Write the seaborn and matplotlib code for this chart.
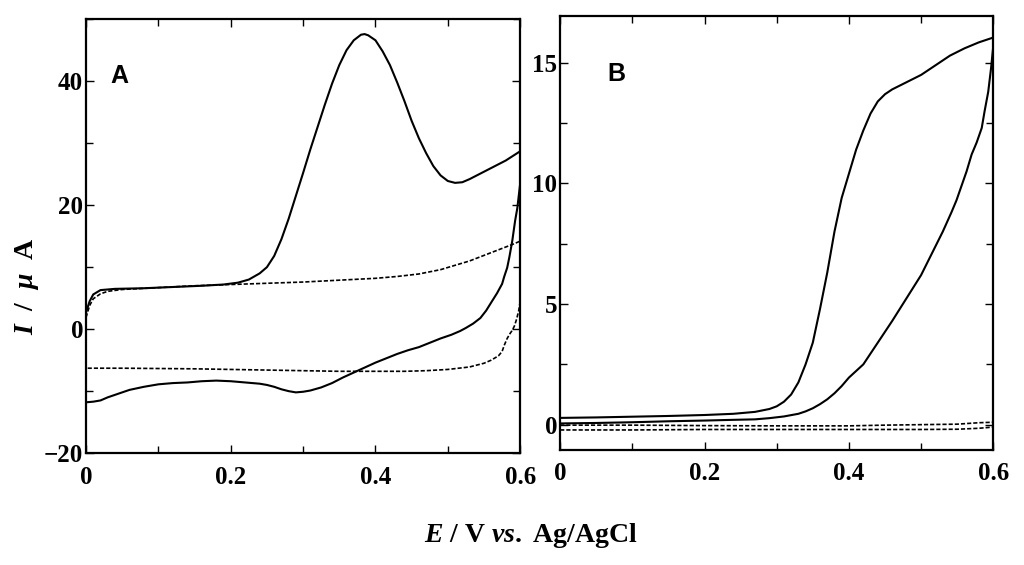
import numpy as np
import pandas as pd
import matplotlib
matplotlib.use("Agg")
import matplotlib.pyplot as plt
from matplotlib.ticker import MultipleLocator
import seaborn as sns

# ---- panel A: cyclic voltammograms (solid = sample, dashed = blank) ----
a_fwd_E = [0.0, 0.005, 0.01, 0.02, 0.04, 0.08, 0.12, 0.16, 0.19, 0.21, 0.225, 0.24,
           0.25, 0.26, 0.27, 0.28, 0.29, 0.30, 0.31, 0.32, 0.33, 0.34, 0.35, 0.36,
           0.37, 0.38, 0.385, 0.39, 0.40, 0.41, 0.42, 0.43, 0.44, 0.45, 0.46, 0.47,
           0.48, 0.49, 0.50, 0.51, 0.52, 0.53, 0.54, 0.56, 0.58, 0.60]
a_fwd_I = [2.7, 4.5, 5.6, 6.3, 6.5, 6.6, 6.8, 7.0, 7.2, 7.5, 8.0, 9.0,
           10.0, 11.8, 14.5, 17.8, 21.5, 25.2, 29.0, 32.6, 36.2, 39.6, 42.6, 45.0,
           46.6, 47.5, 47.6, 47.4, 46.6, 44.8, 42.6, 39.8, 36.8, 33.6, 30.8, 28.4,
           26.3, 24.8, 23.9, 23.6, 23.7, 24.2, 24.8, 26.0, 27.2, 28.7]

a_rev_E = [0.600, 0.598, 0.596, 0.593, 0.589, 0.585, 0.582, 0.578, 0.575, 0.568,
           0.561, 0.553, 0.545, 0.535, 0.525, 0.517, 0.505, 0.49, 0.475, 0.46,
           0.445, 0.43, 0.415, 0.40, 0.385, 0.37, 0.355, 0.34, 0.325, 0.31, 0.30,
           0.29, 0.28, 0.27, 0.26, 0.25, 0.24, 0.22, 0.20, 0.18, 0.16, 0.14, 0.12,
           0.10, 0.08, 0.06, 0.04, 0.03, 0.02, 0.01, 0.0]
a_rev_I = [23.5, 21.5, 19.5, 17.5, 14.2, 11.6, 9.9, 8.5, 7.3, 5.8,
           4.5, 3.0, 1.8, 0.9, 0.2, -0.3, -0.9, -1.5, -2.2, -2.9,
           -3.4, -4.0, -4.7, -5.4, -6.2, -7.0, -7.8, -8.7, -9.4, -9.9, -10.1,
           -10.2, -10.0, -9.7, -9.3, -9.0, -8.8, -8.6, -8.4, -8.3, -8.4, -8.6, -8.7,
           -8.9, -9.3, -9.8, -10.6, -11.0, -11.5, -11.7, -11.8]

a_blank_fwd_E = [0.0, 0.005, 0.01, 0.02, 0.03, 0.05, 0.1, 0.15, 0.2, 0.25, 0.3,
                 0.35, 0.4, 0.43, 0.46, 0.49, 0.51, 0.53, 0.55, 0.57, 0.59, 0.60]
a_blank_fwd_I = [1.9, 3.8, 4.9, 5.7, 6.1, 6.4, 6.7, 7.0, 7.2, 7.4, 7.6,
                 7.9, 8.2, 8.5, 8.9, 9.6, 10.3, 11.0, 11.9, 12.8, 13.7, 14.2]

a_blank_rev_E = [0.600, 0.598, 0.595, 0.592, 0.589, 0.586, 0.582, 0.578, 0.575, 0.57,
                 0.56, 0.55, 0.53, 0.50, 0.47, 0.44, 0.40, 0.35, 0.30, 0.25, 0.20,
                 0.15, 0.10, 0.05, 0.0]
a_blank_rev_I = [4.5, 3.0, 1.6, 0.5, -0.2, -0.7, -1.5, -2.6, -3.6, -4.3,
                 -5.0, -5.5, -6.1, -6.5, -6.7, -6.8, -6.8, -6.8, -6.7, -6.6, -6.5,
                 -6.4, -6.35, -6.3, -6.3]

# ---- panel B ----
b_up_E = [0.0, 0.05, 0.1, 0.15, 0.2, 0.24, 0.27, 0.29, 0.30, 0.31, 0.32, 0.33, 0.34,
          0.35, 0.36, 0.37, 0.38, 0.39, 0.40, 0.41, 0.42, 0.43, 0.44, 0.45, 0.46,
          0.48, 0.50, 0.52, 0.54, 0.56, 0.58, 0.60]
b_up_I = [0.28, 0.30, 0.33, 0.36, 0.40, 0.45, 0.53, 0.65, 0.76, 0.95, 1.25, 1.75, 2.5,
          3.4, 4.8, 6.3, 8.0, 9.4, 10.4, 11.4, 12.2, 12.9, 13.4, 13.7, 13.9,
          14.2, 14.5, 14.9, 15.3, 15.6, 15.85, 16.05]

b_low_E = [0.600, 0.597, 0.593, 0.588, 0.584, 0.577, 0.570, 0.563, 0.556, 0.549,
           0.542, 0.53, 0.52, 0.50, 0.48, 0.46, 0.44, 0.42, 0.40, 0.39, 0.38, 0.37,
           0.36, 0.35, 0.34, 0.33, 0.31, 0.29, 0.27, 0.24, 0.20, 0.15, 0.10, 0.05, 0.0]
b_low_I = [15.7, 14.8, 13.8, 13.0, 12.3, 11.7, 11.2, 10.5, 9.9, 9.3,
           8.8, 8.0, 7.4, 6.2, 5.25, 4.3, 3.4, 2.5, 1.95, 1.6, 1.3, 1.05,
           0.85, 0.68, 0.55, 0.45, 0.34, 0.27, 0.22, 0.2, 0.17, 0.14, 0.1, 0.07, 0.05]

b_blank_up_E = [0.0, 0.1, 0.2, 0.3, 0.4, 0.45, 0.5, 0.55, 0.58, 0.6]
b_blank_up_I = [-0.02, -0.02, -0.04, -0.05, -0.05, -0.02, 0.0, 0.02, 0.08, 0.1]
b_blank_low_E = [0.0, 0.1, 0.2, 0.3, 0.4, 0.5, 0.55, 0.58, 0.6]
b_blank_low_I = [-0.22, -0.22, -0.2, -0.2, -0.2, -0.2, -0.19, -0.15, -0.1]

sns.set_style("ticks")
plt.rcParams["font.family"] = ["Liberation Serif", "DejaVu Serif"]
plt.rcParams["font.weight"] = "bold"
plt.rcParams["text.color"] = "black"
plt.rcParams["mathtext.fontset"] = "custom"
plt.rcParams["mathtext.it"] = "Liberation Serif:italic:bold"
plt.rcParams["mathtext.rm"] = "Liberation Serif:bold"
plt.rcParams["mathtext.bf"] = "Liberation Serif:bold"

fig = plt.figure(figsize=(10.24, 5.65), dpi=100)
ax_a = fig.add_axes([0.084, 0.198, 0.424, 0.768])
ax_b = fig.add_axes([0.547, 0.204, 0.423, 0.768])

solid = dict(color="black", linewidth=1.5, sort=False, estimator=None)
dashed = dict(color="black", linewidth=1.2, sort=False, estimator=None, linestyle=(0, (2.5, 1.2)))

sns.lineplot(x=a_fwd_E, y=a_fwd_I, ax=ax_a, **solid)
sns.lineplot(x=a_rev_E, y=a_rev_I, ax=ax_a, **solid)
sns.lineplot(x=a_blank_fwd_E, y=a_blank_fwd_I, ax=ax_a, **dashed)
sns.lineplot(x=a_blank_rev_E, y=a_blank_rev_I, ax=ax_a, **dashed)

sns.lineplot(x=b_up_E, y=b_up_I, ax=ax_b, **solid)
sns.lineplot(x=b_low_E, y=b_low_I, ax=ax_b, **solid)
sns.lineplot(x=b_blank_up_E, y=b_blank_up_I, ax=ax_b, **dashed)
sns.lineplot(x=b_blank_low_E, y=b_blank_low_I, ax=ax_b, **dashed)

ax_a.set_xlim(0, 0.6)
ax_a.set_ylim(-20, 50)
ax_a.yaxis.set_major_locator(MultipleLocator(20))
ax_a.yaxis.set_minor_locator(MultipleLocator(10))

ax_b.set_xlim(0, 0.6)
ax_b.set_ylim(-1.04, 16.95)
ax_b.yaxis.set_major_locator(MultipleLocator(5))
ax_b.yaxis.set_minor_locator(MultipleLocator(2.5))

for ax in (ax_a, ax_b):
    ax.xaxis.set_major_locator(MultipleLocator(0.2))
    ax.xaxis.set_minor_locator(MultipleLocator(0.1))
    ax.xaxis.set_major_formatter(plt.FuncFormatter(lambda v, p: "0" if abs(v) < 1e-9 else f"{v:.1f}"))
    ax.tick_params(which="both", direction="in", top=True, right=True,
                   labelsize=18, width=1, colors="black")
    ax.tick_params(axis="x", pad=9)
    ax.tick_params(axis="y", pad=2)
    ax.tick_params(which="major", length=6)
    ax.tick_params(which="minor", length=5)
    for lab in ax.get_xticklabels() + ax.get_yticklabels():
        lab.set_fontweight("bold")
    for sp in ax.spines.values():
        sp.set_linewidth(1.6)
        sp.set_color("black")
    ax.set_xlabel("")
    ax.set_ylabel("")

ax_a.text(0.055, 0.869, "A", transform=ax_a.transAxes, fontsize=18,
          fontweight="bold", family="Liberation Sans", va="center", ha="left")
ax_b.text(0.108, 0.866, "B", transform=ax_b.transAxes, fontsize=18,
          fontweight="bold", family="Liberation Sans", va="center", ha="left")

fig.text(0.026, 0.493, r"$I$  /  $\mu$  A", rotation=90, fontsize=20,
         fontweight="bold", va="center", ha="center")
fig.text(0.518, 0.053, r"$E$ / V $vs.$ Ag/AgCl", fontsize=20,
         fontweight="bold", va="center", ha="center")

fig.savefig("out.png", dpi=100)
